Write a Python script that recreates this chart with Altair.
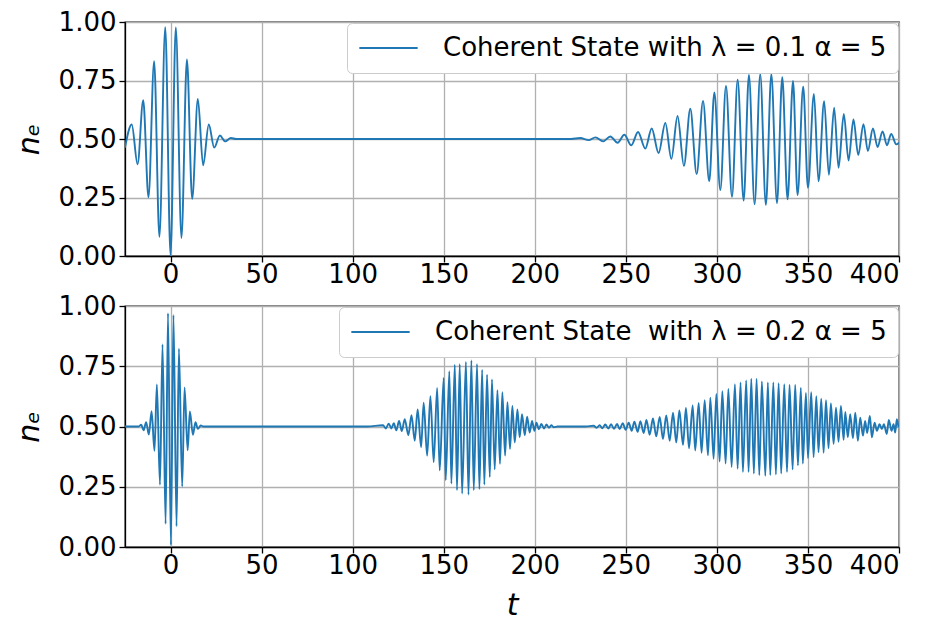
import altair as alt
import pandas as pd

LABEL_TOP = "Coherent State with λ = 0.1 α = 5"
LABEL_BOT = "Coherent State \u00a0with λ = 0.2 α = 5"
LINE_COLOR = "#1f77b4"

# ---------------- top panel (lambda = 0.1) ----------------
top_burst_t = [-25.0, -21.3, -18.1, -15.0, -12.1, -9.0, -6.1, -2.9, 0.0, 2.9, 6.0, 9.0,
               11.9, 15.0, 17.9, 21.0, 24.0, 27.1, 30.0, 33.1, 36.0]
top_burst_n = [0.463, 0.562, 0.392, 0.666, 0.251, 0.833, 0.082, 0.978, 0.004, 0.977, 0.077, 0.840,
               0.244, 0.671, 0.388, 0.562, 0.463, 0.515, 0.490, 0.504, 0.500]
top_flat_t = [120.0, 220.0]
top_flat_n = [0.500, 0.500]
top_rev_t = [225.0, 229.6, 233.3, 237.5, 241.5, 245.5, 249.2, 253.0, 256.7, 260.7,
             264.2, 268.0, 271.7, 275.0, 278.4, 281.9, 285.4, 288.9, 292.4, 295.8,
             298.6, 301.9, 305.0, 308.3, 311.4, 314.7, 317.6, 320.7, 323.8, 326.9,
             329.9, 333.0, 335.9, 338.8, 341.8, 344.3, 347.4, 350.0, 353.3, 355.8,
             358.9, 361.5, 364.4, 366.8, 369.7, 372.3, 375.0, 377.6, 380.5, 382.9,
             385.7, 388.2, 391.0, 393.4, 395.7, 398.5, 400.0]
top_rev_n = [0.504, 0.495, 0.507, 0.490, 0.511, 0.484, 0.518, 0.473, 0.530, 0.459,
             0.545, 0.440, 0.569, 0.415, 0.598, 0.385, 0.629, 0.350, 0.663, 0.319,
             0.699, 0.282, 0.727, 0.253, 0.753, 0.237, 0.774, 0.221, 0.777, 0.219,
             0.777, 0.226, 0.764, 0.242, 0.748, 0.260, 0.723, 0.292, 0.693, 0.319,
             0.662, 0.347, 0.634, 0.377, 0.607, 0.408, 0.584, 0.432, 0.563, 0.449,
             0.545, 0.466, 0.532, 0.473, 0.522, 0.477, 0.484]

# ---------------- bottom panel (lambda = 0.2) ----------------
bot_burst_t = [-25.0, -17.5, -16.1, -14.8, -13.4, -11.9, -10.4, -8.8, -7.5, -5.8, -4.4, -2.7, -1.4,
               0.2, 1.6, 3.3, 4.6, 6.4, 7.7, 9.4, 10.6, 12.3, 13.7, 15.0, 16.6, 18.0]
bot_burst_n = [0.500, 0.500, 0.507, 0.484, 0.518, 0.467, 0.563, 0.399, 0.675, 0.258, 0.840, 0.096, 0.970,
               0.008, 0.963, 0.086, 0.823, 0.251, 0.662, 0.401, 0.562, 0.466, 0.518, 0.490, 0.504, 0.500]
bot_flat1_t = [108.0]
bot_flat1_n = [0.500]
bot_rev1_t = [116.7, 118.2, 119.8, 121.3, 122.6, 124.0, 125.5, 127.0, 128.6, 130.6,
              132.3, 134.1, 135.7, 137.6, 139.0, 140.9, 142.7, 144.5, 146.4, 147.8,
              150.0, 151.1, 153.1, 154.2, 156.1, 157.3, 158.8, 160.1, 162.2, 163.6,
              165.2, 166.5, 168.3, 169.6, 171.1, 172.3, 173.8, 175.3, 176.5, 178.0,
              179.5, 180.9, 182.2, 183.7, 185.0, 186.4, 187.7, 189.0, 190.5, 191.7,
              193.0, 194.5, 195.8, 197.2, 198.5, 199.8, 200.9, 202.3, 203.6, 205.1,
              206.4, 207.8, 209.1, 210.4, 212.5]
bot_rev1_n = [0.505, 0.492, 0.512, 0.492, 0.514, 0.484, 0.523, 0.481, 0.530, 0.464,
              0.547, 0.441, 0.571, 0.414, 0.599, 0.379, 0.626, 0.352, 0.660, 0.318,
              0.701, 0.277, 0.729, 0.263, 0.756, 0.236, 0.759, 0.222, 0.768, 0.217,
              0.774, 0.236, 0.759, 0.240, 0.736, 0.259, 0.715, 0.290, 0.695, 0.322,
              0.651, 0.345, 0.642, 0.379, 0.601, 0.407, 0.585, 0.434, 0.571, 0.455,
              0.551, 0.464, 0.541, 0.475, 0.523, 0.482, 0.516, 0.489, 0.511, 0.492,
              0.508, 0.495, 0.505, 0.497, 0.500]
bot_flat2_t = [228.0]
bot_flat2_n = [0.500]
bot_rev2_t = [232.3, 234.0, 235.6, 237.1, 238.7, 240.4, 241.9, 243.5, 245.2, 246.6,
              248.3, 249.9, 251.6, 253.2, 254.7, 256.5, 258.0, 259.8, 261.3, 263.1,
              264.9, 266.7, 268.6, 270.4, 272.2, 274.1, 275.9, 277.7, 279.4, 281.4,
              283.0, 284.7, 286.7, 288.1, 290.0, 291.6, 293.3, 295.1, 296.4, 298.2,
              299.7, 301.5, 303.0, 304.8, 306.3, 308.1, 309.9, 311.4, 313.0, 314.3,
              316.1, 317.4, 318.9, 320.3, 321.8, 323.3, 324.7, 326.6, 328.0, 329.3,
              331.0, 332.4, 333.9, 335.3, 337.0, 338.5, 339.9, 341.6, 343.0, 344.5,
              346.1, 347.2, 348.9, 350.0, 351.8, 353.1, 354.6, 355.8, 357.3, 358.6,
              359.9, 361.3, 362.6, 364.1, 365.4, 366.8, 368.1, 369.6, 370.5, 371.9,
              373.2, 374.7, 376.0, 377.4, 378.7, 380.2, 381.4, 382.5, 384.0, 385.1,
              386.6, 387.9, 389.3, 390.6, 391.7, 393.3, 394.4, 395.9, 397.0, 397.9,
              398.8, 399.7]
bot_rev2_n = [0.503, 0.495, 0.505, 0.493, 0.508, 0.492, 0.510, 0.490, 0.511, 0.489,
              0.514, 0.486, 0.516, 0.482, 0.520, 0.478, 0.522, 0.473, 0.527, 0.466,
              0.533, 0.459, 0.540, 0.448, 0.546, 0.441, 0.557, 0.434, 0.567, 0.424,
              0.577, 0.410, 0.587, 0.400, 0.598, 0.391, 0.609, 0.380, 0.620, 0.366,
              0.635, 0.355, 0.646, 0.346, 0.656, 0.332, 0.676, 0.325, 0.683, 0.311,
              0.691, 0.311, 0.698, 0.305, 0.698, 0.298, 0.687, 0.295, 0.683, 0.298,
              0.683, 0.301, 0.680, 0.305, 0.676, 0.311, 0.673, 0.322, 0.673, 0.339,
              0.660, 0.346, 0.639, 0.369, 0.642, 0.373, 0.626, 0.393, 0.615, 0.391,
              0.609, 0.410, 0.596, 0.428, 0.578, 0.437, 0.585, 0.445, 0.560, 0.455,
              0.551, 0.451, 0.557, 0.441, 0.537, 0.462, 0.523, 0.473, 0.544, 0.455,
              0.516, 0.482, 0.510, 0.489, 0.510, 0.469, 0.527, 0.482, 0.510, 0.475,
              0.530, 0.496]

x_ticks = [0, 50, 100, 150, 200, 250, 300, 350, 400]
y_ticks = [0.0, 0.25, 0.5, 0.75, 1.0]

top_df = pd.DataFrame({
    "t": top_burst_t + top_flat_t + top_rev_t,
    "n": top_burst_n + top_flat_n + top_rev_n,
})
top_df["series"] = LABEL_TOP
bot_df = pd.DataFrame({
    "t": bot_burst_t + bot_flat1_t + bot_rev1_t + bot_flat2_t + bot_rev2_t,
    "n": bot_burst_n + bot_flat1_n + bot_rev1_n + bot_flat2_n + bot_rev2_n,
})
bot_df["series"] = LABEL_BOT


def panel(df, label, x_title, height):
    return alt.Chart(df).mark_line(
        strokeWidth=1.9, interpolate="monotone", clip=True
    ).encode(
        x=alt.X("t:Q",
                scale=alt.Scale(domain=[-25, 400], nice=False, zero=False),
                axis=alt.Axis(values=x_ticks, format="d", title=x_title)),
        y=alt.Y("n:Q",
                scale=alt.Scale(domain=[0, 1], nice=False),
                axis=alt.Axis(values=y_ticks, format=".2f", title="nₑ")),
        color=alt.Color("series:N",
                        scale=alt.Scale(domain=[label], range=[LINE_COLOR]),
                        legend=alt.Legend(title=None, orient="top-right")),
    ).properties(width=774, height=height)


top = panel(top_df, LABEL_TOP, None, 234)
bottom = panel(bot_df, LABEL_BOT, "t", 241)

chart = alt.vconcat(top, bottom, spacing=50, bounds="flush").resolve_scale(
    color="independent"
).resolve_legend(
    color="independent"
).properties(
    padding={"left": 5, "top": 0, "right": 2, "bottom": 2}
).configure_view(
    stroke="black", strokeWidth=1.3
).configure_axis(
    labelFont="DejaVu Sans", labelFontSize=26, labelColor="black",
    titleFont="DejaVu Sans", titleFontSize=30, titleFontStyle="italic",
    titleFontWeight="normal", titleColor="black",
    tickColor="black", tickSize=6, tickWidth=1.3,
    domainColor="black", domainWidth=1.3,
    gridColor="#b0b0b0", gridWidth=1.3, labelPadding=3,
).configure_axisX(
    titlePadding=12, labelPadding=-1,
).configure_axisY(
    titlePadding=14,
).configure_legend(
    labelFont="DejaVu Sans", labelFontSize=26, labelColor="black",
    labelLimit=0, fillColor="white", strokeColor="#cccccc",
    cornerRadius=5, padding=11, offset=1, clipHeight=28,
    symbolType="stroke", symbolSize=3400, symbolStrokeWidth=2,
    labelOffset=24,
)

chart.save("out.html", embed_options={"renderer": "svg", "actions": False})
